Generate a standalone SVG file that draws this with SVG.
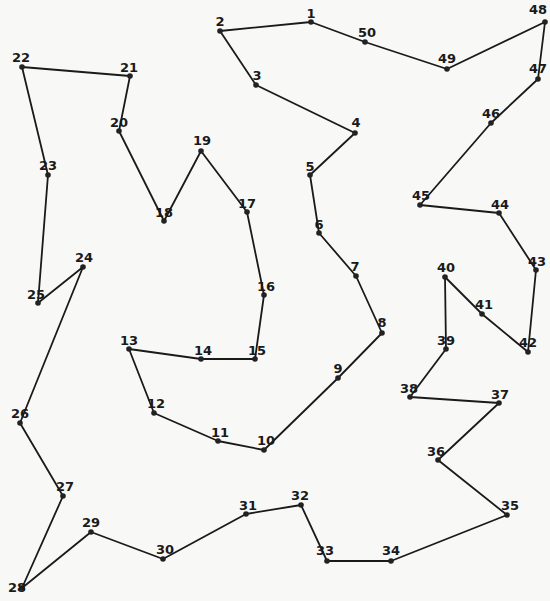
<svg xmlns="http://www.w3.org/2000/svg" width="550" height="601" viewBox="0 0 550 601">
<style>
.bg{fill:#f8f8f6}
.edge{fill:none;stroke:#1a1a1a;stroke-width:1.8;stroke-linejoin:round}
.dot{fill:#222}
.lbl{font-family:"DejaVu Sans","Liberation Sans",sans-serif;font-weight:bold;font-size:13px;fill:#1a1a1a;text-anchor:middle}
</style>
<rect class="bg" x="0" y="0" width="550" height="601"/>
<g id="connectors">
<polyline class="edge" points="311,22 220,31 256,85 355,133 310,175 319,233 356,276 382,333 338,378 264,450 218,441 154,413 129,349 201,359 255,359 264,295 247,212 201,151 164,221 119,131 130,76 22,67 48,175 38,303 83,267 20,423 63,496 22,588 91,532 163,559 246,514 301,505 327,561 391,561 507,515 438,460 499,403 410,397 446,349 445,277 482,314 528,352 536,270 499,213 420,205 491,123 538,79 545,22 447,69 365,42 311,22"/>
</g>
<g id="n1"><circle class="dot" cx="311" cy="22" r="2.8"/><text class="lbl" x="311" y="18">1</text></g>
<g id="n2"><circle class="dot" cx="220" cy="31" r="2.8"/><text class="lbl" x="220" y="26">2</text></g>
<g id="n3"><circle class="dot" cx="256" cy="85" r="2.8"/><text class="lbl" x="257" y="80">3</text></g>
<g id="n4"><circle class="dot" cx="355" cy="133" r="2.8"/><text class="lbl" x="356" y="127">4</text></g>
<g id="n5"><circle class="dot" cx="310" cy="175" r="2.8"/><text class="lbl" x="310" y="171">5</text></g>
<g id="n6"><circle class="dot" cx="319" cy="233" r="2.8"/><text class="lbl" x="319" y="229">6</text></g>
<g id="n7"><circle class="dot" cx="356" cy="276" r="2.8"/><text class="lbl" x="355" y="271">7</text></g>
<g id="n8"><circle class="dot" cx="382" cy="333" r="2.8"/><text class="lbl" x="382" y="327">8</text></g>
<g id="n9"><circle class="dot" cx="338" cy="378" r="2.8"/><text class="lbl" x="338" y="373">9</text></g>
<g id="n10"><circle class="dot" cx="264" cy="450" r="2.8"/><text class="lbl" x="266" y="445">10</text></g>
<g id="n11"><circle class="dot" cx="218" cy="441" r="2.8"/><text class="lbl" x="220" y="437">11</text></g>
<g id="n12"><circle class="dot" cx="154" cy="413" r="2.8"/><text class="lbl" x="156" y="408">12</text></g>
<g id="n13"><circle class="dot" cx="129" cy="349" r="2.8"/><text class="lbl" x="129" y="345">13</text></g>
<g id="n14"><circle class="dot" cx="201" cy="359" r="2.8"/><text class="lbl" x="203" y="355">14</text></g>
<g id="n15"><circle class="dot" cx="255" cy="359" r="2.8"/><text class="lbl" x="257" y="355">15</text></g>
<g id="n16"><circle class="dot" cx="264" cy="295" r="2.8"/><text class="lbl" x="266" y="291">16</text></g>
<g id="n17"><circle class="dot" cx="247" cy="212" r="2.8"/><text class="lbl" x="247" y="208">17</text></g>
<g id="n18"><circle class="dot" cx="164" cy="221" r="2.8"/><text class="lbl" x="164" y="217">18</text></g>
<g id="n19"><circle class="dot" cx="201" cy="151" r="2.8"/><text class="lbl" x="202" y="145">19</text></g>
<g id="n20"><circle class="dot" cx="119" cy="131" r="2.8"/><text class="lbl" x="119" y="127">20</text></g>
<g id="n21"><circle class="dot" cx="130" cy="76" r="2.8"/><text class="lbl" x="129" y="72">21</text></g>
<g id="n22"><circle class="dot" cx="22" cy="67" r="2.8"/><text class="lbl" x="21" y="62">22</text></g>
<g id="n23"><circle class="dot" cx="48" cy="175" r="2.8"/><text class="lbl" x="48" y="170">23</text></g>
<g id="n24"><circle class="dot" cx="83" cy="267" r="2.8"/><text class="lbl" x="84" y="262">24</text></g>
<g id="n25"><circle class="dot" cx="38" cy="303" r="2.8"/><text class="lbl" x="36" y="299">25</text></g>
<g id="n26"><circle class="dot" cx="20" cy="423" r="2.8"/><text class="lbl" x="20" y="418">26</text></g>
<g id="n27"><circle class="dot" cx="63" cy="496" r="2.8"/><text class="lbl" x="65" y="491">27</text></g>
<g id="n28"><circle class="dot" cx="22" cy="588" r="2.8"/><text class="lbl" x="17" y="592">28</text></g>
<g id="n29"><circle class="dot" cx="91" cy="532" r="2.8"/><text class="lbl" x="91" y="527">29</text></g>
<g id="n30"><circle class="dot" cx="163" cy="559" r="2.8"/><text class="lbl" x="165" y="554">30</text></g>
<g id="n31"><circle class="dot" cx="246" cy="514" r="2.8"/><text class="lbl" x="248" y="510">31</text></g>
<g id="n32"><circle class="dot" cx="301" cy="505" r="2.8"/><text class="lbl" x="300" y="500">32</text></g>
<g id="n33"><circle class="dot" cx="327" cy="561" r="2.8"/><text class="lbl" x="325" y="555">33</text></g>
<g id="n34"><circle class="dot" cx="391" cy="561" r="2.8"/><text class="lbl" x="391" y="555">34</text></g>
<g id="n35"><circle class="dot" cx="507" cy="515" r="2.8"/><text class="lbl" x="510" y="510">35</text></g>
<g id="n36"><circle class="dot" cx="438" cy="460" r="2.8"/><text class="lbl" x="436" y="456">36</text></g>
<g id="n37"><circle class="dot" cx="499" cy="403" r="2.8"/><text class="lbl" x="500" y="399">37</text></g>
<g id="n38"><circle class="dot" cx="410" cy="397" r="2.8"/><text class="lbl" x="409" y="393">38</text></g>
<g id="n39"><circle class="dot" cx="446" cy="349" r="2.8"/><text class="lbl" x="446" y="345">39</text></g>
<g id="n40"><circle class="dot" cx="445" cy="277" r="2.8"/><text class="lbl" x="446" y="272">40</text></g>
<g id="n41"><circle class="dot" cx="482" cy="314" r="2.8"/><text class="lbl" x="484" y="309">41</text></g>
<g id="n42"><circle class="dot" cx="528" cy="352" r="2.8"/><text class="lbl" x="528" y="347">42</text></g>
<g id="n43"><circle class="dot" cx="536" cy="270" r="2.8"/><text class="lbl" x="537" y="266">43</text></g>
<g id="n44"><circle class="dot" cx="499" cy="213" r="2.8"/><text class="lbl" x="500" y="209">44</text></g>
<g id="n45"><circle class="dot" cx="420" cy="205" r="2.8"/><text class="lbl" x="421" y="200">45</text></g>
<g id="n46"><circle class="dot" cx="491" cy="123" r="2.8"/><text class="lbl" x="491" y="118">46</text></g>
<g id="n47"><circle class="dot" cx="538" cy="79" r="2.8"/><text class="lbl" x="538" y="73">47</text></g>
<g id="n48"><circle class="dot" cx="545" cy="22" r="2.8"/><text class="lbl" x="538" y="14">48</text></g>
<g id="n49"><circle class="dot" cx="447" cy="69" r="2.8"/><text class="lbl" x="447" y="63">49</text></g>
<g id="n50"><circle class="dot" cx="365" cy="42" r="2.8"/><text class="lbl" x="367" y="37">50</text></g>
</svg>
